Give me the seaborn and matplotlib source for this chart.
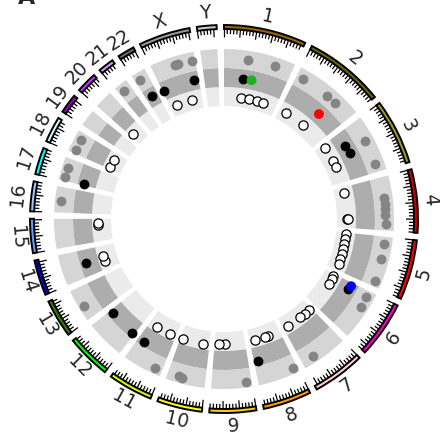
"""
Circular genome plot: chromosome ideogram ring with a three-band data track
"""

import numpy as np
import pandas as pd
import seaborn as sns
import matplotlib.pyplot as plt

# Chromosomes (Mb) and ideogram colours
chrom_names = ["1", "2", "3", "4", "5", "6", "7", "8", "9", "10", "11", "12",
               "13", "14", "15", "16", "17", "18", "19", "20", "21", "22", "X", "Y"]
chrom_sizes = [249, 243, 198, 191, 181, 171, 159, 146, 141, 136, 135, 134,
               115, 107, 103, 90, 81, 78, 59, 63, 48, 51, 155, 59]
chrom_colors = ["#996600", "#666600", "#99991E", "#CC0000", "#FF0000", "#FF00CC",
                "#FFCCCC", "#FF9900", "#FFCC00", "#FFFF00", "#CCFF00", "#00FF00",
                "#358000", "#0000CC", "#6699FF", "#99CCFF", "#00FFFF", "#CCFFFF",
                "#9900CC", "#CC33FF", "#CC99FF", "#666666", "#999999", "#CCCCCC"]

# Gray points (outer band)
gray_chrom = ["1", "1", "2", "2", "2", "3", "3", "4", "4", "4", "4", "4",
              "5", "5", "5", "6", "6", "7", "8", "9", "10", "10", "11", "13",
              "16", "17", "17", "18", "18", "21", "22", "X", "X", "X"]
gray_pos = [85, 186, 26, 129, 168, 79, 169, 75, 95, 115, 135, 167,
            27, 81, 162, 23, 62, 115, 15, 19, 82, 96, 27, 48,
            41, 13, 49, 12, 55, 21, 19, 82, 93, 143]
gray_val = [2.5, 2.52, 2.5, 2.5, 2.52, 2.5, 2.5, 2.55, 2.55, 2.55, 2.55, 2.58,
            2.58, 2.58, 2.62, 2.6, 2.62, 2.65, 2.7, 2.7, 2.68, 2.68, 2.72, 2.7,
            2.68, 2.68, 2.68, 2.65, 2.65, 2.6, 2.58, 2.55, 2.55, 2.55]

# Black points (middle band)
black_chrom = ["1", "3", "3", "6", "8", "11", "12", "12", "14", "17", "22", "X", "X"]
black_pos = [78, 56, 91, 31, 129, 108, 9, 119, 54, 5, 26, 6, 137]
black_val = [1.5, 1.5, 1.52, 1.55, 1.72, 1.75, 1.75, 1.72, 1.7, 1.62, 1.55, 1.5, 1.52]

# Open points (inner band)
open_chrom = ["1", "1", "1", "1", "2", "2", "3", "3", "3", "4", "4", "4",
              "5", "5", "5", "5", "5", "5", "5", "6", "6", "6",
              "7", "7", "7", "7", "8", "8", "8", "9", "9", "10", "10",
              "11", "11", "14", "14", "15", "15", "18", "18", "20", "X", "X"]
open_pos = [80, 117, 157, 188, 33, 133, 19, 89, 121, 25, 148, 152,
            8, 32, 55, 80, 104, 129, 152, 11, 28, 52,
            15, 38, 65, 138, 56, 74, 122, 92, 122, 30, 123,
            28, 96, 35, 58, 75, 85, 8, 48, 15, 32, 106]
open_val = [0.5, 0.5, 0.5, 0.52, 0.52, 0.52, 0.55, 0.55, 0.55, 0.53, 0.53, 0.56,
            0.53, 0.53, 0.53, 0.53, 0.53, 0.53, 0.55, 0.55, 0.55, 0.57,
            0.6, 0.6, 0.6, 0.62, 0.62, 0.62, 0.62, 0.65, 0.65, 0.7, 0.7,
            0.75, 0.75, 0.7, 0.7, 0.68, 0.68, 0.62, 0.62, 0.6, 0.55, 0.55]

# Highlighted points
hl_chrom = ["1", "2", "6"]
hl_pos = [113, 153, 14]
hl_val = [1.5, 1.5, 1.62]
hl_colors = ["#1db31d", "#ff0000", "#0000ff"]

GAP = 2.2
R_TRACK = 113
BAND = 19
R_IDEO = 190

deg_per_mb = (360 - GAP * len(chrom_sizes)) / sum(chrom_sizes)
chrom_start = {}
a = 0.0
for name, size in zip(chrom_names, chrom_sizes):
    chrom_start[name] = a
    a += size * deg_per_mb + GAP


def to_theta(chrom, pos):
    return np.deg2rad(np.array([chrom_start[c] for c in chrom]) + np.array(pos) * deg_per_mb)


def to_r(val):
    return R_TRACK + BAND * np.array(val)


sns.set_theme(style="white")
plt.rcParams["font.family"] = ["DejaVu Sans"]

fig = plt.figure(figsize=(4.4, 4.38), dpi=100)
# polar axes centred on the circle, 1 data unit = 1 pixel
ax = fig.add_axes([4 / 440, (438 - 219 - 220) / 438, 440 / 440, 440 / 438], projection="polar")
ax.set_theta_zero_location("N")
ax.set_theta_direction(-1)
ax.set_ylim(0, 220)
ax.axis("off")

band_colors = ["#ebebeb", "#adadad", "#d5d5d5"]
for name, size, col in zip(chrom_names, chrom_sizes, chrom_colors):
    start = np.deg2rad(chrom_start[name])
    width = np.deg2rad(size * deg_per_mb)
    # data track background
    for i, bc in enumerate(band_colors):
        ax.bar(start, BAND, width=width, bottom=R_TRACK + i * BAND, align="edge",
               color=bc, edgecolor="none")
    # ideogram
    ax.bar(start, 4, width=width, bottom=R_IDEO, align="edge", color=col,
           edgecolor="black", linewidth=1.4)
    ticks = np.arange(0, size + 1, 10)
    tick_theta = np.deg2rad(chrom_start[name] + ticks * deg_per_mb)
    tick_len = np.where(ticks % 50 == 0, 8, 5)
    ax.vlines(tick_theta, R_IDEO - tick_len, R_IDEO, color="black", linewidth=0.9)
    mid = chrom_start[name] + size * deg_per_mb / 2
    rot = -mid + 180 if 90 <= mid <= 270 else -mid
    ax.text(np.deg2rad(mid), 207, name, rotation=rot, rotation_mode="anchor",
            ha="center", va="center", fontsize=13.5)

gray_df = pd.DataFrame({"theta": to_theta(gray_chrom, gray_pos), "r": to_r(gray_val)})
black_df = pd.DataFrame({"theta": to_theta(black_chrom, black_pos), "r": to_r(black_val)})
open_df = pd.DataFrame({"theta": to_theta(open_chrom, open_pos), "r": to_r(open_val)})
hl_df = pd.DataFrame({"theta": to_theta(hl_chrom, hl_pos), "r": to_r(hl_val), "c": hl_colors})

sns.scatterplot(data=gray_df, x="theta", y="r", ax=ax, color="#858585", s=50,
                linewidth=0, legend=False)
sns.scatterplot(data=black_df, x="theta", y="r", ax=ax, color="black", s=50,
                linewidth=0, legend=False)
sns.scatterplot(data=open_df, x="theta", y="r", ax=ax, color="white", s=44,
                edgecolor="black", linewidth=0.9, legend=False)
sns.scatterplot(data=hl_df, x="theta", y="r", ax=ax, hue="c", palette=hl_colors,
                s=50, linewidth=0, legend=False)
ax.set_ylim(0, 220)
ax.axis("off")

# panel letter, cut by the top edge as in the source figure
fig.text(27 / 440, 1 - 4 / 438, "A", fontsize=16, fontweight="bold",
         ha="center", va="baseline")

fig.savefig("out.png", dpi=100)
